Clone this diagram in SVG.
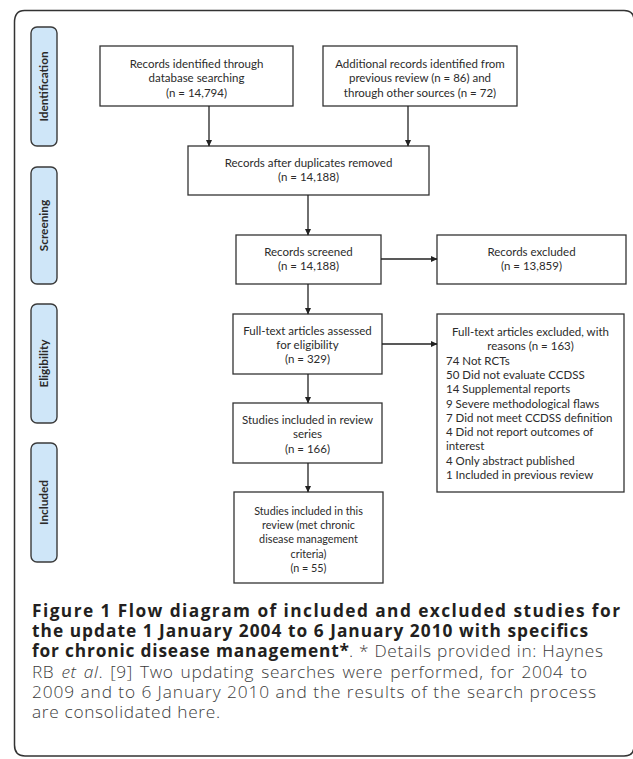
<svg xmlns="http://www.w3.org/2000/svg" width="633" height="759" viewBox="0 0 633 759">
<style>
.frame{fill:none;stroke:#333;stroke-width:1.5}
.lab{fill:#cfe6f8;stroke:#3a3a3a;stroke-width:1.4}
.labt{font-family:Lato,"Liberation Sans",sans-serif;font-weight:bold;font-size:11.8px;fill:#2a2a2a;text-anchor:middle}
.box{fill:#fff;stroke:#333;stroke-width:1.3}
.t{font-family:Lato,"Liberation Sans",sans-serif;font-size:11.5px;fill:#2b2b2b;text-anchor:middle}
.tl{text-anchor:start}
.t9{font-size:10.8px}
.con line{stroke:#222;stroke-width:1.3}
.cb{font-family:"Open Sans","Liberation Sans",sans-serif;font-size:17.3px;font-weight:bold;fill:#231f20}
.cr{font-weight:300;fill:#3c3c3c}
.ci{font-style:italic}
</style>
<defs>
<marker id="ah" markerWidth="7" markerHeight="7" refX="6" refY="3.5" orient="auto" markerUnits="userSpaceOnUse">
<path d="M0,0.5 L6.5,3.5 L0,6.5 Z" fill="#222"/>
</marker>
</defs>
<path class="frame" d="M624,10.5 H24.5 Q14.5,10.5 14.5,22.5 V745 Q14.5,756 25,756 H624 Q634,756 634,746 V20.5 Q634,10.5 624,10.5"/>

<g id="label-identification"><rect class="lab" x="31" y="27" width="26" height="119" rx="6"/><text class="labt" transform="translate(48,86.5) rotate(-90)">Identification</text></g>
<g id="label-screening"><rect class="lab" x="31" y="167" width="26" height="117" rx="6"/><text class="labt" transform="translate(48,225.5) rotate(-90)">Screening</text></g>
<g id="label-eligibility"><rect class="lab" x="31" y="304" width="26" height="119" rx="6"/><text class="labt" transform="translate(48,363.5) rotate(-90)">Eligibility</text></g>
<g id="label-included"><rect class="lab" x="31" y="443" width="26" height="119" rx="6"/><text class="labt" transform="translate(48,502.5) rotate(-90)">Included</text></g>

<g id="n-database">
<rect class="box" x="100" y="46" width="193" height="60"/>
<text class="t" x="196.5" y="68">Records identified through</text>
<text class="t" x="196.5" y="82.3">database searching</text>
<text class="t" x="196.5" y="96.6">(n = 14,794)</text>
</g>
<g id="n-additional">
<rect class="box" x="323" y="46" width="194" height="60"/>
<text class="t" x="420" y="68">Additional records identified from</text>
<text class="t" x="420" y="82.3">previous review (n = 86) and</text>
<text class="t" x="420" y="96.6">through other sources (n = 72)</text>
</g>
<g id="n-duplicates">
<rect class="box" x="188" y="146" width="241" height="49"/>
<text class="t" x="308.5" y="166.7">Records after duplicates removed</text>
<text class="t" x="308.5" y="181">(n = 14,188)</text>
</g>
<g id="n-screened">
<rect class="box" x="236" y="235" width="145" height="49"/>
<text class="t" x="308.5" y="256">Records screened</text>
<text class="t" x="308.5" y="270.3">(n = 14,188)</text>
</g>
<g id="n-excluded">
<rect class="box" x="437" y="235" width="189" height="49"/>
<text class="t" x="531.5" y="256">Records excluded</text>
<text class="t" x="531.5" y="270.3">(n = 13,859)</text>
</g>
<g id="n-fulltext">
<rect class="box" x="233" y="314" width="149" height="60"/>
<text class="t" x="307.5" y="334.7">Full-text articles assessed</text>
<text class="t" x="307.5" y="349">for eligibility</text>
<text class="t" x="307.5" y="363.3">(n = 329)</text>
</g>
<g id="n-fulltext-excluded">
<rect class="box" x="437" y="314" width="187" height="178"/>
<text class="t" x="530.5" y="336">Full-text articles excluded, with</text>
<text class="t" x="530.5" y="350.3">reasons  (n = 163)</text>
<text class="t tl" x="446" y="364.6">74 Not RCTs</text>
<text class="t tl" x="446" y="378.9">50 Did not evaluate CCDSS</text>
<text class="t tl" x="446" y="393.2">14 Supplemental reports</text>
<text class="t tl" x="446" y="407.5">9 Severe methodological flaws</text>
<text class="t tl" x="446" y="421.8">7 Did not meet CCDSS definition</text>
<text class="t tl" x="446" y="436.1">4 Did not report outcomes of</text>
<text class="t tl" x="446" y="450.4">interest</text>
<text class="t tl" x="446" y="464.7">4 Only abstract published</text>
<text class="t tl" x="446" y="479">1 Included in previous review</text>
</g>
<g id="n-series">
<rect class="box" x="233" y="403" width="149" height="60"/>
<text class="t" x="307.5" y="424">Studies included in review</text>
<text class="t" x="307.5" y="438.3">series</text>
<text class="t" x="307.5" y="452.6">(n = 166)</text>
</g>
<g id="n-this-review">
<rect class="box" x="234" y="492" width="149" height="91"/>
<text class="t t9" x="308.5" y="514.7">Studies included in this</text>
<text class="t t9" x="308.5" y="529">review (met chronic</text>
<text class="t t9" x="308.5" y="543.3">disease management</text>
<text class="t t9" x="308.5" y="557.6">criteria)</text>
<text class="t t9" x="308.5" y="571.9">(n = 55)</text>
</g>

<g id="connectors" class="con">
<line x1="209" y1="106" x2="209" y2="146" marker-end="url(#ah)"/>
<line x1="408" y1="106" x2="408" y2="146" marker-end="url(#ah)"/>
<line x1="308" y1="195" x2="308" y2="235" marker-end="url(#ah)"/>
<line x1="308" y1="284" x2="308" y2="314" marker-end="url(#ah)"/>
<line x1="308" y1="374" x2="308" y2="403" marker-end="url(#ah)"/>
<line x1="308" y1="463" x2="308" y2="492" marker-end="url(#ah)"/>
<line x1="381" y1="259" x2="437" y2="259" marker-end="url(#ah)"/>
<line x1="382" y1="344" x2="437" y2="344" marker-end="url(#ah)"/>
</g>

<g id="caption">
<text class="cb" x="32" y="617" textLength="588" lengthAdjust="spacing">Figure 1 Flow diagram of included and excluded studies for</text>
<text class="cb" x="32" y="637" textLength="556" lengthAdjust="spacing">the update 1 January 2004 to 6 January 2010 with specifics</text>
<text class="cb" x="32" y="657" textLength="317" lengthAdjust="spacing">for chronic disease management*</text>
<text class="cb cr" x="349" y="657" textLength="254" lengthAdjust="spacing">. * Details provided in: Haynes</text>
<text class="cb cr" x="32" y="677.5" letter-spacing="0.6" word-spacing="2">RB <tspan class="ci">et al</tspan>. [9] Two updating searches were performed, for 2004 to</text>
<text class="cb cr" x="32" y="697.5" textLength="564" lengthAdjust="spacing">2009 and to 6 January 2010 and the results of the search process</text>
<text class="cb cr" x="32" y="717.5" textLength="188" lengthAdjust="spacing">are consolidated here.</text>
</g>
</svg>
